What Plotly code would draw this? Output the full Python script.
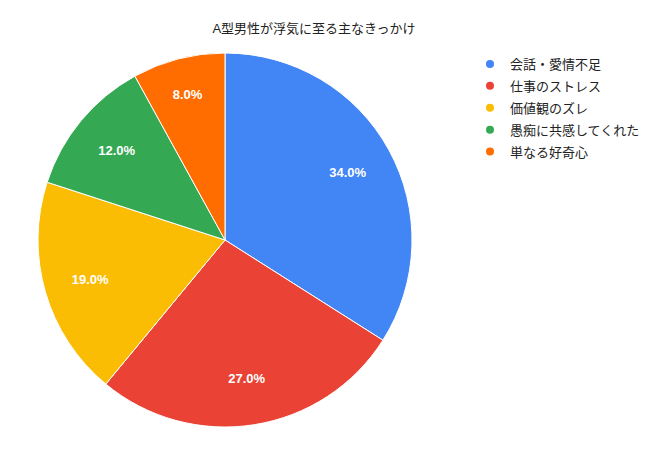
import plotly.graph_objects as go

labels = ["会話・愛情不足", "仕事のストレス", "価値観のズレ", "愚痴に共感してくれた", "単なる好奇心"]
values = [34, 27, 19, 12, 8]
colors = ["#4285F4", "#EA4335", "#FBBC04", "#34A853", "#FF6D01"]

font_family = "Liberation Sans, Arial, Noto Sans CJK JP"
pie_domain = dict(x=[30 / 660, 404 / 660], y=[31 / 450, 405 / 450])

fig = go.Figure()
# the coloured slices
fig.add_trace(go.Pie(
    labels=labels,
    values=values,
    sort=False,
    direction="clockwise",
    rotation=0,
    marker=dict(colors=colors, line=dict(color="white", width=1)),
    textinfo="none",
    showlegend=False,
    domain=pie_domain,
))
# transparent ring on top, only to place the percent labels further out
fig.add_trace(go.Pie(
    labels=labels,
    values=values,
    sort=False,
    direction="clockwise",
    rotation=0,
    hole=0.5,
    marker=dict(colors=["rgba(0,0,0,0)"] * len(values), line=dict(width=0)),
    texttemplate="%{percent:.1%}",
    textposition="inside",
    insidetextorientation="horizontal",
    textfont=dict(color="white", size=13, family=font_family, weight="bold"),
    hoverinfo="skip",
    showlegend=False,
    domain=pie_domain,
))

# legend entries with round markers
for name, c in zip(labels, colors):
    fig.add_trace(go.Scatter(
        x=[None], y=[None], mode="markers", name=name, legendgroup=name,
        marker=dict(symbol="circle", size=8, color=c),
    ))

fig.update_layout(
    width=660, height=450,
    margin=dict(l=0, r=0, t=0, b=0),
    paper_bgcolor="white", plot_bgcolor="white",
    font=dict(family=font_family, size=13, color="#222222"),
    title=dict(text="A型男性が浮気に至る主なきっかけ", x=306 / 660, xanchor="center",
               y=1 - 20 / 450, yanchor="middle", font=dict(size=13, color="#222222")),
    xaxis=dict(visible=False), yaxis=dict(visible=False),
    legend=dict(x=462 / 660, y=1 - 41 / 450, xanchor="left", yanchor="top",
                traceorder="grouped", font=dict(size=13, color="#222222"),
                itemwidth=30, tracegroupgap=2),
)

fig.write_html("out.html")
